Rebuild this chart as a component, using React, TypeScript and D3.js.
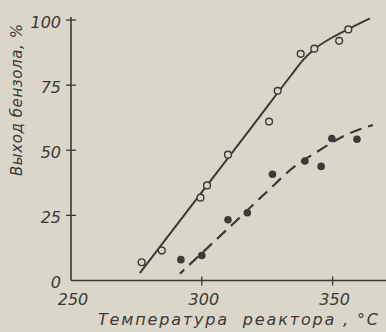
import * as d3 from "d3";

// measured points, hollow circles (upper curve)
const openTemp = [277, 284.7, 299.5, 302, 310, 325.7, 329, 337.8, 343, 352.5, 356];
const openYield = [7, 11.5, 31.8, 36.5, 48.3, 61, 72.8, 87, 89, 92, 96.4];

// measured points, filled circles (lower curve)
const filledTemp = [292, 300, 310, 317.4, 327, 339.4, 345.6, 349.7, 359.3];
const filledYield = [8, 9.6, 23.3, 26, 40.8, 45.9, 43.8, 54.5, 54.2];

// hand-drawn fitted curves
const solidFitTemp = [276.3, 300, 320, 334, 339, 343, 349, 356, 364.3];
const solidFitYield = [2.8, 33.9, 60.1, 78.6, 85, 88.8, 92.8, 96.5, 100.6];
const dashFitTemp = [291.6, 300, 312, 325, 335, 345, 355, 365.4];
const dashFitYield = [2.6, 10.5, 21.8, 34.2, 43.4, 50, 55.8, 59.7];

const xTicks = [250, 300, 350];
const yTicks = [0, 25, 50, 75, 100];

const W = 386;
const H = 332;
const paper = "#dad6c9";
const ink = "#3b3a35";
const font = "'DejaVu Sans', sans-serif";

export default function App() {
  const x = d3.scaleLinear().domain([250, 370.4]).range([71, 386]);
  const y = d3.scaleLinear().domain([0, 100]).range([280.5, 20]);

  const line = d3
    .line<[number, number]>()
    .x((d) => x(d[0]))
    .y((d) => y(d[1]))
    .curve(d3.curveMonotoneX);

  const solidPts = solidFitTemp.map((t, i) => [t, solidFitYield[i]] as [number, number]);
  const dashPts = dashFitTemp.map((t, i) => [t, dashFitYield[i]] as [number, number]);

  return (
    <div style={{ position: "fixed", left: 0, top: 0 }}>
      <svg width={W} height={H} style={{ display: "block" }}>
        <rect width={W} height={H} fill={paper} />

        {/* axes */}
        <line x1={x(250)} x2={W} y1={y(0)} y2={y(0)} stroke={ink} strokeWidth={1.6} />
        <line x1={x(250)} x2={x(250)} y1={y(0)} y2={y(100) - 3} stroke={ink} strokeWidth={1.6} />

        {yTicks.map((t) => (
          <g key={`y${t}`}>
            {t > 0 && (
              <line x1={x(250) - 5} x2={x(250) + 5} y1={y(t)} y2={y(t)} stroke={ink} strokeWidth={1.3} />
            )}
            <text
              x={x(250) - 10}
              y={y(t) + 3}
              textAnchor="end"
              dominantBaseline="middle"
              fontFamily={font}
              fontStyle="italic"
              fontSize={16}
              fill={ink}
            >
              {t}
            </text>
          </g>
        ))}

        {xTicks.map((t) => (
          <g key={`x${t}`}>
            {t > 250 && (
              <line x1={x(t)} x2={x(t)} y1={y(0) - 4} y2={y(0) + 5} stroke={ink} strokeWidth={1.3} />
            )}
            <text
              x={x(t) + 2}
              y={y(0) + 24}
              textAnchor="middle"
              fontFamily={font}
              fontStyle="italic"
              fontSize={16}
              fill={ink}
            >
              {t}
            </text>
          </g>
        ))}

        {/* fitted curves */}
        <path d={line(solidPts) ?? ""} fill="none" stroke={ink} strokeWidth={2} />
        <path
          d={line(dashPts) ?? ""}
          fill="none"
          stroke={ink}
          strokeWidth={2.2}
          strokeDasharray="12 7"
          strokeDashoffset={6}
        />

        {/* points */}
        {openTemp.map((t, i) => (
          <circle
            key={`o${i}`}
            cx={x(t)}
            cy={y(openYield[i])}
            r={3.4}
            fill={paper}
            stroke={ink}
            strokeWidth={1.4}
          />
        ))}
        {filledTemp.map((t, i) => (
          <circle key={`f${i}`} cx={x(t)} cy={y(filledYield[i])} r={3.8} fill={ink} />
        ))}

        {/* axis titles */}
        <text
          transform="translate(22,100) rotate(-90)"
          textAnchor="middle"
          fontFamily={font}
          fontStyle="italic"
          fontSize={15}
          fill={ink}
          textLength={152}
          lengthAdjust="spacing"
        >
          Выход бензола, %
        </text>
        <text
          x={98}
          y={325}
          fontFamily={font}
          fontStyle="italic"
          fontSize={16}
          fill={ink}
          textLength={280}
          lengthAdjust="spacing"
          style={{ whiteSpace: "pre" }}
        >
          {"Температура  реактора , °C"}
        </text>
      </svg>
    </div>
  );
}
